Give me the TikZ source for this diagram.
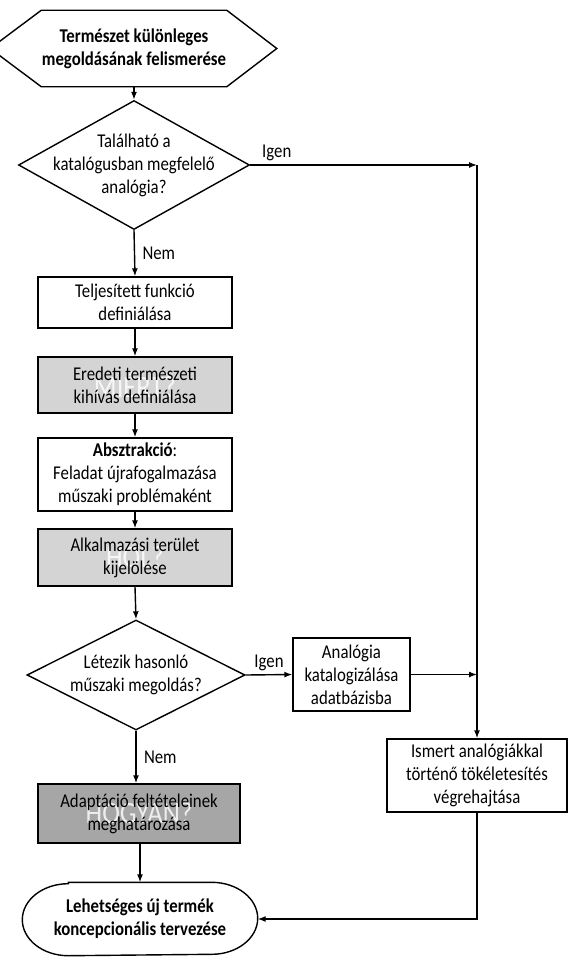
\documentclass[tikz,border=0pt]{standalone}
\usepackage{fontspec}
\setmainfont{Carlito}[FakeStretch=0.86]
\usetikzlibrary{arrows.meta, shapes.geometric, calc}

\begin{document}
\begin{tikzpicture}[x=1pt, y=-1pt, >={Latex[length=8pt, width=6pt]}, line width=1.4pt,
        font=\fontsize{19.5}{23}\selectfont,
        stepbox/.style={draw, align=center, minimum width=194, minimum height=51, inner sep=2pt},
        graybox/.style={stepbox, fill=black!17},
        darkbox/.style={stepbox, fill=black!35},
        decision/.style={draw, diamond, minimum width=231, minimum height=129, inner sep=0pt},
        plain/.style={align=center, inner sep=0pt},
        boldtext/.style={plain, font=\fontsize{19.5}{23}\selectfont\bfseries},
        ghost/.style={text=white, text opacity=0.8, inner sep=0pt, font=\fontsize{31}{31}\selectfont}]
        \useasboundingbox (0,0) rectangle (569,958);

        % start and end
        \node[boldtext, minimum width=152, minimum height=75] (start) at (134,48.5) {Természet különleges\\megoldásának felismerése};
        \draw ([xshift=-51]start.west) -- (start.north west) -- (start.north east) -- ([xshift=50]start.east) -- (start.south east) -- (start.south west) -- cycle;

        \node[boldtext, minimum width=234, minimum height=72] (final) at (140,919) {Lehetséges új termék\\koncepcionális tervezése};
        \draw ([xshift=46]final.north west) -- ([xshift=-46]final.north east) arc[start angle=90, end angle=-90, x radius=46pt, y radius=36pt]
            -- ([xshift=46]final.south west) arc[start angle=270, end angle=90, x radius=46pt, y radius=36pt] -- cycle;

        % decisions
        \node[decision] (q1) at (134,165) {};
        \node[plain] (q1text) at (q1) {Található a\\katalógusban megfelelő\\analógia?};
        \node[decision, minimum width=218, minimum height=110] (q2) at (136,675) {};
        \node[plain] (q2text) at (q2) {Létezik hasonló\\műszaki megoldás?};

        % steps
        \node[stepbox] (func) at (135,302.5) {Teljesített funkció\\definiálása};
        \node[graybox, minimum height=56, path picture={\node[ghost] (why) at (path picture bounding box.center) {MIÉRT?};}] (chal) at (135,385) {Eredeti természeti\\kihívás definiálása};
        \node[stepbox, minimum height=73] (abst) at (135,474.5) {\textbf{Absztrakció}:\\Feladat újrafogalmazása\\műszaki problémaként};
        \node[graybox, minimum height=57, path picture={\node[ghost] (where) at (path picture bounding box.center) {HOL?};}] (area) at (135,557.5) {Alkalmazási terület\\kijelölése};
        \node[darkbox, minimum width=202, minimum height=59, path picture={\node[ghost] (how) at (path picture bounding box.center) {HOGYAN?};}] (adapt) at (139,813.5) {Adaptáció feltételeinek\\meghatározása};
        \node[stepbox, minimum width=117, minimum height=73] (cat) at (351.5,674.5) {Analógia\\katalogizálása\\adatbázisba};
        \node[stepbox, minimum width=180, minimum height=73] (known) at (477,775.5) {Ismert analógiákkal\\történő tökéletesítés\\végrehajtása};

        \coordinate (c1) at (q1.east -| known.north);
        \coordinate (c2) at (cat.east -| known.north);

        % connectors
        \draw[->] (start.south) -- (q1.north);
        \draw[->] (q1.east) -- (c1) node[anchor=south west, pos=0, xshift=8pt] (yes1) {Igen};
        \draw[->] (c1) -- (known.north);
        \draw[->] (q1.south) -- (func.north) node[anchor=west, midway, xshift=4pt] (no1) {Nem};
        \draw[->] (func) -- (chal);
        \draw[->] (chal) -- (abst);
        \draw[->] (abst) -- (area);
        \draw[->] (area.south) -- (q2.north);
        \draw[->] (q2.east) -- (cat.west) node[anchor=south, midway] (yes2) {Igen};
        \draw[->] (cat.east) -- (c2);
        \draw[->] (q2.south) -- (q2.south |- adapt.north) node[anchor=west, midway, xshift=4pt] (no2) {Nem};
        \draw[->] (adapt.south -| final.north) -- (final.north);
        \draw[->] (known.south) -- (known.south |- final.east) -- (final.east);
    \end{tikzpicture}
\end{document}
